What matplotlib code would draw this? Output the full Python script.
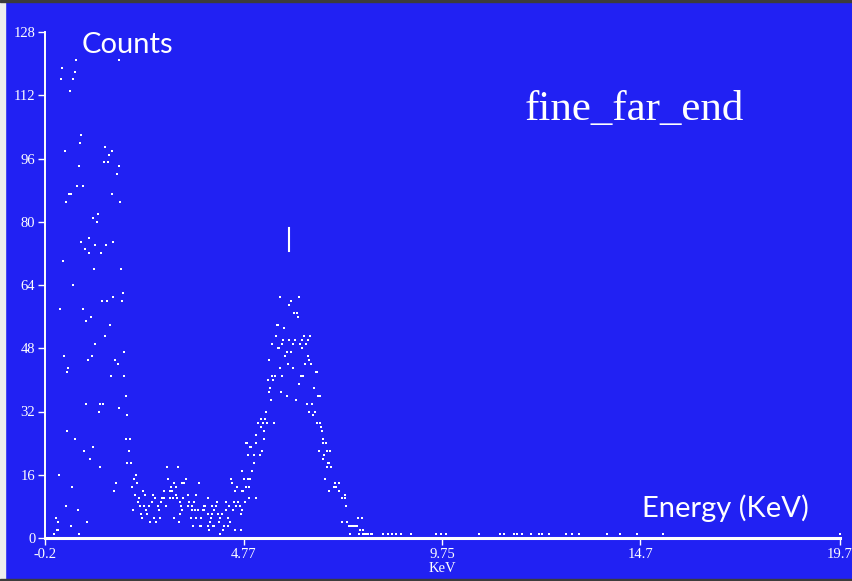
import matplotlib.pyplot as plt
from matplotlib.patches import Rectangle

# spectrum, split by region (energy in KeV, counts per channel)
noise_kev = [-0.20, -0.16, -0.12, -0.08, -0.04, 0.00,
             0.58, 1.66, 0.23, 0.54, 0.20, 0.50, 0.43, 0.70, 0.67, 0.30, 1.29, 1.47, 1.40, 1.27,
             1.38, 0.65, 1.65, 1.60, 0.60, 0.75, 0.40, 0.46, 1.48, 0.32, 1.68, 1.12, 1.00, 1.11,
             0.91, 0.71, 1.49, 1.05, 1.33, 0.81, 0.89, 1.20, 0.25, 1.02, 1.71, 0.51, 1.75, 1.51,
             1.22, 1.35, 1.73, 0.18, 0.74, 0.96, 0.82, 1.43, 1.31, 1.06, 1.78, 0.27, 0.98, 0.87,
             1.56, 1.62, 0.38, 0.35, 1.44, 1.79, 1.82, 0.83, 1.18, 1.25, 1.64, 1.16, 1.86, 0.34,
             0.56, 1.84, 1.93, 0.99, 0.78, 1.90, 0.93, 1.85, 1.95, 1.17, 0.16, 2.08, 2.02, 2.10,
             1.58, 0.47, 1.97, 1.53, 2.05, 2.16, 2.13, 2.17, 0.33, 0.62, 2.00, 0.07, 0.13, 0.85,
             0.45, 0.09, 0.12, 0.03, 0.65]
noise_counts = [0, 0, 0, 0, 0, 0,
                121, 121, 119, 118, 116, 116, 113, 102, 100, 98, 99, 98, 97, 95,
                95, 94, 94, 92, 89, 89, 87, 87, 87, 85, 85, 82, 81, 80,
                76, 75, 75, 74, 74, 73, 72, 72, 70, 68, 68, 64, 62, 61,
                60, 60, 60, 58, 58, 56, 55, 54, 51, 49, 47, 46, 46, 45,
                45, 44, 43, 42, 41, 41, 36, 34, 34, 34, 33, 32, 31, 27,
                25, 25, 25, 23, 22, 22, 20, 19, 19, 18, 16, 16, 15, 14,
                14, 13, 13, 12, 11, 10, 9, 8, 8, 7, 7, 5, 4, 4,
                3, 2, 2, 1, 1]

valley_kev = [2.86, 3.12, 2.88, 3.32, 3.03, 3.22, 3.28, 3.65, 2.96, 3.09, 2.26, 2.77, 2.94, 2.98,
              2.31, 2.51, 3.08, 3.39, 3.57, 2.56, 2.73, 2.78, 2.92, 3.00, 3.11, 3.26, 3.87, 2.47,
              2.71, 3.17, 3.40, 3.52, 2.28, 2.40, 2.64, 2.84, 3.21, 3.38, 3.49, 3.79, 2.34, 2.66,
              3.24, 3.48, 3.55, 3.64, 3.76, 2.20, 2.36, 3.19, 2.24, 2.52, 2.69, 3.02, 3.46, 3.59,
              3.71, 2.44, 2.58, 3.15, 3.51, 3.70,
              4.11, 4.32, 3.81, 3.99, 4.07, 4.40, 3.78, 4.04, 4.33, 3.89, 3.98, 4.12, 4.22, 3.96,
              4.18, 4.38, 3.94, 4.16, 4.42, 3.69, 3.88, 4.00, 4.03, 4.27, 4.37, 3.90, 4.25, 4.17]
valley_counts = [18, 18, 15, 15, 14, 14, 14, 14, 13, 13, 12, 12, 12, 12,
                 11, 11, 11, 11, 11, 10, 10, 10, 10, 10, 10, 10, 10, 9,
                 9, 9, 9, 9, 8, 8, 8, 8, 8, 8, 8, 8, 7, 7,
                 7, 7, 7, 7, 7, 6, 6, 6, 5, 5, 5, 5, 5, 5,
                 5, 4, 4, 4, 3, 3,
                 9, 9, 8, 8, 8, 8, 7, 7, 7, 6, 6, 6, 6, 5,
                 5, 5, 4, 4, 4, 3, 3, 3, 3, 3, 3, 2, 2, 1]

peak_kev = [4.85, 4.93, 4.89, 4.74, 4.45, 4.78, 4.87, 4.94, 4.47, 4.60, 4.83, 4.90, 4.55, 4.73,
            4.76, 4.91, 4.53, 4.63, 4.80, 4.58, 4.67, 4.51, 4.72, 4.70, 4.71, 4.56,
            5.14, 5.25, 5.35, 5.53, 5.21, 5.29, 5.07, 5.27, 4.84, 5.09, 4.96, 5.23, 5.04, 5.18,
            5.03, 4.99, 5.08, 5.20, 5.31, 5.33, 5.45, 5.41, 5.43, 5.38, 5.51, 5.47, 5.55, 5.40,
            5.49, 5.58, 5.60, 5.64, 5.62, 5.66, 5.67, 5.71, 5.73, 5.69, 5.79, 5.76, 5.74, 5.82,
            5.85, 5.86, 5.89, 5.91, 5.92, 5.95, 5.97, 6.00, 6.02]
peak_counts = [24, 23, 21, 17, 15, 15, 15, 15, 14, 13, 13, 13, 12, 12,
               12, 10, 9, 9, 9, 8, 8, 7, 7, 6, 2, 2,
               29, 29, 29, 29, 28, 27, 26, 25, 24, 24, 23, 22, 21, 21,
               19, 17, 10, 30, 30, 32, 35, 37, 38, 40, 40, 41, 41, 45,
               49, 51, 54, 54, 48, 48, 43, 37, 41, 61, 53, 50, 49, 46,
               47, 36, 44, 59, 50, 47, 60, 49, 43]

tail_kev = [6.04, 6.11, 6.13, 6.16, 6.07, 6.08, 6.17, 6.19, 6.21, 6.25, 6.23, 6.24, 6.28, 6.31,
            6.33, 6.35, 6.38, 6.39, 6.42, 6.43, 6.46, 6.48, 6.41, 6.50, 6.53, 6.57, 6.58, 6.62,
            6.60, 6.64, 6.68, 6.69, 6.65, 6.71, 6.74, 6.75, 6.76, 6.84, 6.77, 6.79, 6.86, 6.94,
            6.88, 6.92, 6.87, 6.95, 6.82, 6.92, 6.90,
            7.03, 7.09, 7.06, 7.16, 7.15, 7.30, 7.23, 7.32, 7.33, 7.24, 7.36, 7.40, 7.45, 7.50,
            7.55, 7.61, 7.63, 7.73, 7.69, 7.77, 7.43, 7.66, 7.76, 7.86, 7.97,
            7.80, 7.89, 7.99, 8.27, 8.38, 8.49, 8.58, 8.72, 8.95, 9.58, 9.70, 9.85, 10.66, 11.18,
            11.28, 11.53, 11.61, 11.75, 11.96, 12.16, 12.24, 12.42, 12.85, 12.99, 13.17, 13.87,
            14.19, 14.63, 15.26, 19.70,
            8.05, 8.15, 8.45, 8.65, 8.85]
tail_counts = [57, 57, 56, 61, 50, 35, 39, 49, 41, 41, 48, 50, 51, 44,
               49, 34, 50, 46, 45, 51, 44, 34, 32, 31, 38, 32, 42, 42,
               29, 36, 36, 29, 22, 28, 27, 25, 24, 24, 20, 21, 22, 22,
               19, 19, 18, 18, 15, 12, 12,
               13, 13, 14, 14, 12, 11, 10, 10, 8, 4, 4, 3, 3, 3,
               3, 3, 5, 5, 2, 2, 1, 1, 1, 1, 1,
               1, 1, 1, 1, 1, 1, 1, 1, 1, 1, 1, 1, 1, 1,
               1, 1, 1, 1, 1, 1, 1, 1, 1, 1, 1, 1,
               1, 1, 1, 1,
               0, 0, 0, 0, 0]

x_ticks = [-0.2, 4.77, 9.75, 14.7, 19.7]
x_tick_labels = ['-0.2', '4.77', '9.75', '14.7', '19.7']
y_ticks = [0, 16, 32, 48, 64, 80, 96, 112, 128]

peak_marker_kev = 5.9
peak_marker_span = [72.6, 78.4]

bg = '#2121f3'
W, H = 853, 581

fig = plt.figure(figsize=(W / 100, H / 100), dpi=100, facecolor=bg)
ax = fig.add_axes([45 / W, 43 / H, 795 / W, 506 / H])
ax.set_facecolor(bg)

for xs, ys in [(noise_kev, noise_counts), (valley_kev, valley_counts),
               (peak_kev, peak_counts), (tail_kev, tail_counts)]:
    ax.scatter(xs, ys, s=2.5, marker='s', color='white', linewidths=0, clip_on=False)

ax.plot([peak_marker_kev, peak_marker_kev], peak_marker_span, color='white', lw=1.5)

ax.set_xlim(-0.2, 19.7)
ax.set_ylim(0, 128)
ax.set_xticks(x_ticks)
ax.set_xticklabels(x_tick_labels)
ax.set_yticks(y_ticks)

for side in ['top', 'right']:
    ax.spines[side].set_visible(False)
ax.spines['left'].set_color('white')
ax.spines['left'].set_linewidth(1.4)
ax.spines['bottom'].set_color('white')
ax.spines['bottom'].set_linewidth(2.2)

tick_font = {'family': 'Liberation Serif', 'size': 10.5}
ax.tick_params(axis='both', colors='white', length=5, width=1, direction='out')
ax.tick_params(axis='y', pad=2)
ax.tick_params(axis='x', pad=2)
for lab in ax.get_xticklabels() + ax.get_yticklabels():
    lab.set_fontfamily('Liberation Serif')
    lab.set_fontsize(10.5)
ax.set_xlabel('KeV', color='white', fontdict=tick_font, labelpad=1)

# text boxes pasted on top of the screen grab
fig.text(82 / W, 1 - 53 / H, 'Counts', color='white', family='Lato', size=21, va='baseline')
fig.text(525 / W, 1 - 120 / H, 'fine_far_end', color='white', family='Liberation Serif',
         size=31, va='baseline')
fig.text(642 / W, 1 - 517 / H, 'Energy (KeV)', color='white', family='Lato', size=21,
         va='baseline')

# screenshot edges
fig.patches.append(Rectangle((0, 0), 5 / W, 1, transform=fig.transFigure, color='#eeeeee', zorder=5))
fig.patches.append(Rectangle((0, 1 - 2 / H), 1, 2 / H, transform=fig.transFigure, color='#3c3c3c', zorder=5))
fig.patches.append(Rectangle((0, 0), 1, 2 / H, transform=fig.transFigure, color='#3c3c3c', zorder=5))

fig.savefig('out.png', dpi=100, facecolor=bg)
